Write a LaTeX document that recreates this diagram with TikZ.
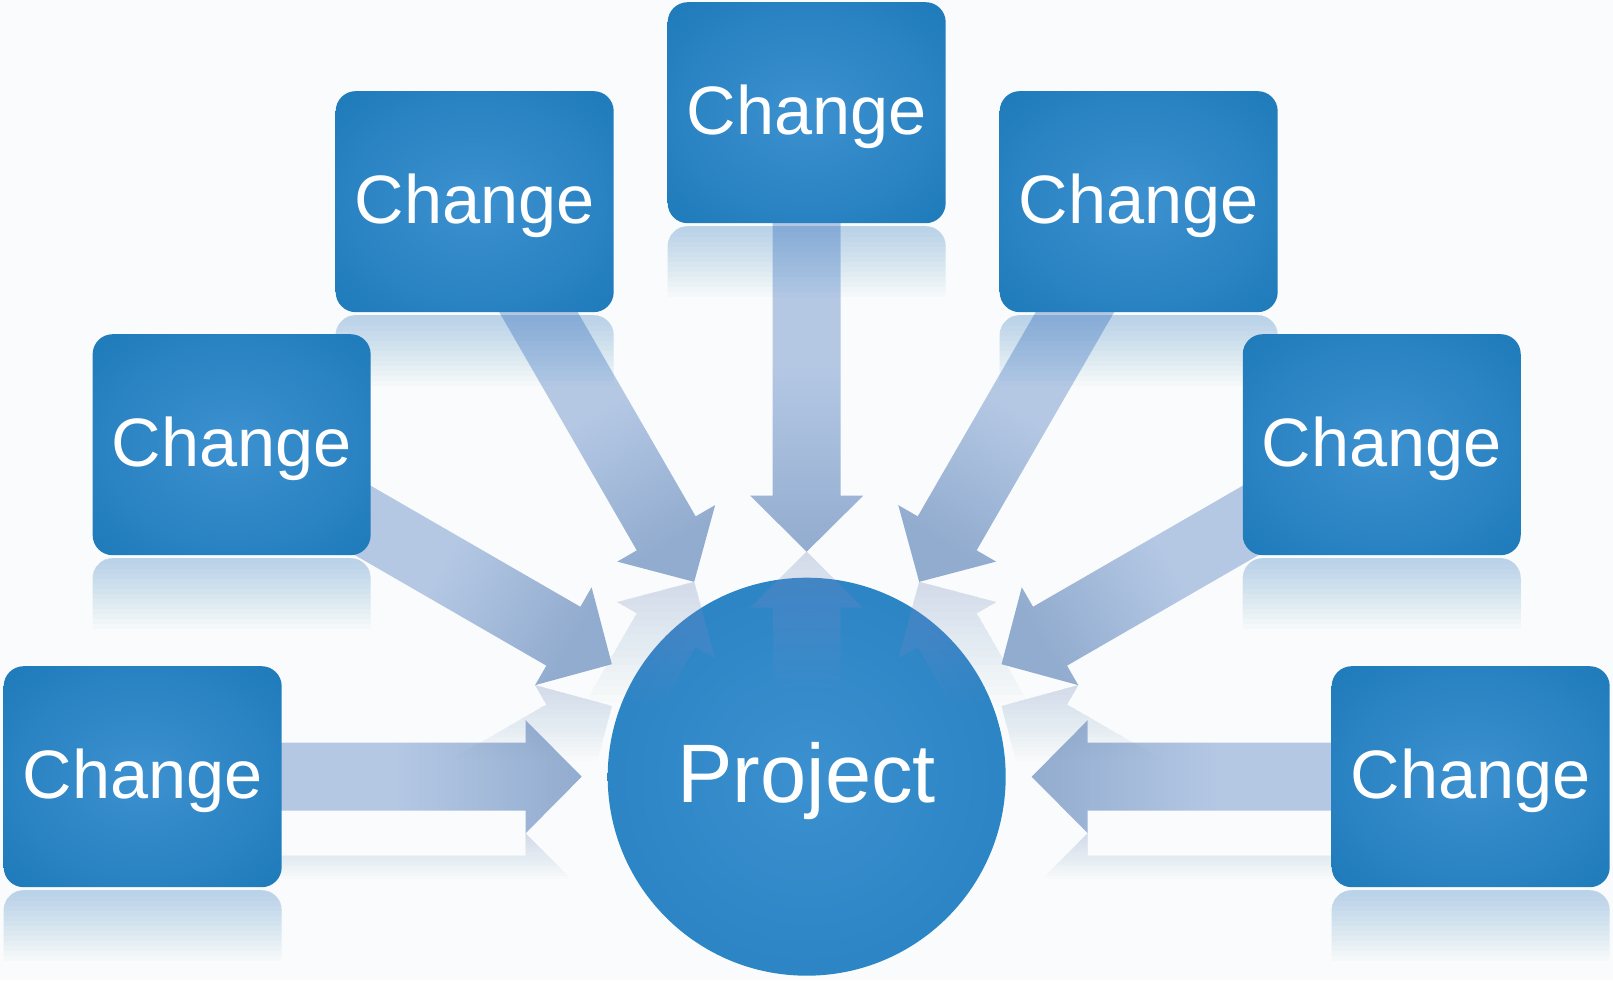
\documentclass[tikz,border=0pt]{standalone}
\usepackage{fontspec}
\setmainfont{Liberation Sans}
\usetikzlibrary{calc}
\definecolor{bgc}{HTML}{FAFBFC}
\definecolor{boxin}{HTML}{3D91D0}
\definecolor{boxout}{HTML}{1271B1}
\definecolor{circin}{HTML}{3C90CF}
\definecolor{circout}{HTML}{1C79BA}
\definecolor{arrlight}{HTML}{B4C8E4}
\definecolor{arrdark}{HTML}{92ACCF}
\definecolor{reflc}{HTML}{2A84C6}
\pgfdeclareradialshading{boxshade}{\pgfpointorigin}{color(0bp)=(boxin); color(50bp)=(boxout)}
\pgfdeclareradialshading{circshade}{\pgfpointorigin}{color(0bp)=(circin); color(50bp)=(circout)}
\pgfdeclarelayer{bglayer}
\pgfdeclarelayer{arrowlayer}
\pgfdeclarelayer{circlayer}
\pgfdeclarelayer{ghostlayer}
\pgfdeclarelayer{refllayer}
\pgfsetlayers{bglayer,arrowlayer,circlayer,ghostlayer,refllayer,main}
\tikzset{
  changebox/.style={shade, shading=boxshade, rounded corners=20pt,
    minimum width=278pt, minimum height=221pt, inner sep=0pt,
    text=white, font=\fontsize{68.5}{70}\selectfont,
    text height=50pt, text depth=6pt},
  projcirc/.style={circle, shade, shading=circshade, minimum size=398pt,
    inner sep=0pt, text=white, font=\fontsize{83}{85}\selectfont,
    text height=60pt, text depth=8pt},
  blockarrow/.style={insert path={
    ({#1+atan(34/600)}:{veclen(600,34)}) --
    ({#1+atan(34/281)}:{veclen(281,34)}) --
    ({#1+atan(56.5/281)}:{veclen(281,56.5)}) --
    (#1:225) --
    ({#1-atan(56.5/281)}:{veclen(281,56.5)}) --
    ({#1-atan(34/281)}:{veclen(281,34)}) --
    ({#1-atan(34/600)}:{veclen(600,34)}) -- cycle}},
}
\begin{document}
\begin{tikzpicture}[x=1pt,y=1pt]
\useasboundingbox (-806.7,-203.3) rectangle (806.3,776.7);
\begin{pgfonlayer}{bglayer}
  \fill[bgc] (-806.7,-203.3) rectangle (806.3,776.7);
\end{pgfonlayer}

% nodes
\begin{pgfonlayer}{circlayer}
\node[projcirc] (p) at (0,0) {Project};
\end{pgfonlayer}
\foreach \a [count=\i] in {0,30,60,90,120,150,180}{
  \node[changebox] (b\i) at (\a:664) {Change};
}

% block arrows from each box to the project
\begin{pgfonlayer}{arrowlayer}
\foreach \a [count=\i] in {0,30,60,90,120,150,180}{
  \pgfmathsetmacro\sa{\a-90}
  \shade[top color=arrlight, bottom color=arrdark, middle color=arrlight,
         shading angle=\sa, shift={(p.center)}, blockarrow=\a];
}
\end{pgfonlayer}

% reflections of the boxes (stacked layers, fading downwards)
\begin{pgfonlayer}{refllayer}
\foreach \a [count=\i] in {0,30,60,90,120,150,180}{
  \pgfmathsetmacro\cx{664*cos(\a)}
  \pgfmathsetmacro\m{664*sin(\a)-110.5-3}
  \foreach \j in {1,...,14}{
    \begin{scope}
      \clip (\cx-141,\m-5*\j) rectangle (\cx+141,\m);
      \fill[reflc, fill opacity=0.025, rounded corners=20pt]
        (\cx-139,\m) rectangle (\cx+139,\m-221);
    \end{scope}
  }
}
\end{pgfonlayer}

% reflections of the arrows (stacked layers, fading downwards)
\begin{pgfonlayer}{ghostlayer}
\foreach \a/\L in {0/45,30/75,60/120,90/135,120/120,150/75,180/45}{
  \pgfmathsetmacro\m{min(225*sin(\a),281*sin(\a)-56.5*abs(cos(\a)))}
  \foreach \j in {1,...,16}{
    \pgfmathsetmacro\yb{\m-\L*\j/16}
    \begin{scope}
      \clip (-810,\yb) rectangle (810,\m);
      \fill[arrdark, fill opacity=0.022, shift={(0,2*\m)}, yscale=-1, blockarrow=\a];
    \end{scope}
  }
}
\end{pgfonlayer}
\end{tikzpicture}
\end{document}
